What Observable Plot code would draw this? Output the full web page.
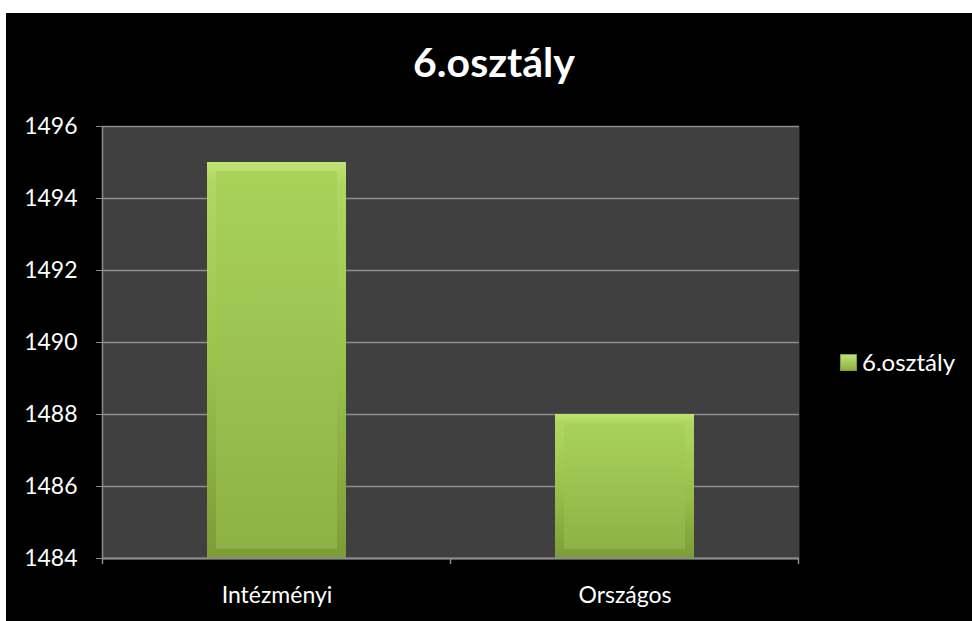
<!DOCTYPE html>
<html>
<head>
<meta charset="utf-8">
<script src="https://cdn.jsdelivr.net/npm/d3@7"></script>
<script src="https://cdn.jsdelivr.net/npm/@observablehq/plot@0.6"></script>
<style>
  html, body { margin: 0; padding: 0; background: #ffffff; }
  #wrap { position: absolute; left: 6px; top: 13px; width: 966px; height: 608px; background: #000; overflow: hidden; font-family: Lato, "Open Sans", sans-serif; }
  #title { position: absolute; left: 0; top: 28px; width: 976px; text-align: center; color: #fff; font-weight: 700; font-size: 41px; line-height: 1; }
  #legend { position: absolute; left: 834px; top: 337px; color: #fff; font-size: 24px; line-height: 24px; display: flex; align-items: center; }
  #legend .sw { width: 17px; height: 17px; margin-right: 5px; background: linear-gradient(#c2e67a, #8aac3f); box-shadow: inset 0 0 0 1px #7d9e38; }
  #chart svg g[aria-label^="y-axis"] line, #chart svg g[aria-label^="y-axis"] path { stroke: #8c8c8c; }
  #defs { position: absolute; width: 0; height: 0; }
</style>
</head>
<body>
<svg id="defs" width="0" height="0">
  <defs>
    <linearGradient id="barOuter" x1="0" y1="0" x2="0" y2="1">
      <stop offset="0" stop-color="#c0e475"/>
      <stop offset="0.05" stop-color="#afd762"/>
      <stop offset="0.5" stop-color="#9bc24d"/>
      <stop offset="1" stop-color="#7c9c36"/>
    </linearGradient>
    <linearGradient id="barInner" x1="0" y1="0" x2="0" y2="1">
      <stop offset="0" stop-color="#a8d25a"/>
      <stop offset="1" stop-color="#8eb245"/>
    </linearGradient>
  </defs>
</svg>
<div id="wrap">
  <div id="title"></div>
  <div id="chart"></div>
  <div id="legend"><span class="sw"></span><span id="legendText"></span></div>
</div>
<script>
const chartTitle = "6.osztály";
const seriesName = "6.osztály";
const categories = ["Intézményi", "Országos"];
const values = [1495, 1488];
const yTicks = [1484, 1486, 1488, 1490, 1492, 1494, 1496];
const yMin = 1484, yMax = 1496;

const data = categories.map((c, i) => ({category: c, value: values[i]}));

document.getElementById("title").textContent = chartTitle;
document.getElementById("legendText").textContent = seriesName;

const plot = Plot.plot({
  width: 966,
  height: 608,
  marginLeft: 96,
  marginRight: 173,
  marginTop: 113,
  marginBottom: 63,
  style: {background: "transparent", color: "#ffffff", fontFamily: "Lato, 'Open Sans', sans-serif", fontSize: "23px"},
  x: {domain: categories, paddingInner: 0.6, paddingOuter: 0.3, label: null, tickSize: 0, tickPadding: 28},
  y: {domain: [yMin, yMax], ticks: yTicks, tickFormat: d => String(d), label: null, tickSize: 6, tickPadding: 19},
  marks: [
    Plot.frame({fill: "#404040", stroke: "none"}),
    Plot.ruleY(yTicks, {stroke: "#8c8c8c", strokeWidth: 1.5}),
    Plot.barY(data, {x: "category", y1: () => yMin, y2: "value", fill: "url(#barOuter)"}),
    Plot.barY(data, {x: "category", y1: () => yMin, y2: "value", fill: "url(#barInner)", inset: 9}),
    Plot.ruleY([yMin], {stroke: "#8c8c8c", strokeWidth: 2})
  ]
});
document.getElementById("chart").appendChild(plot);

// left axis line and category boundary ticks
const xs = plot.scale("x"), ys = plot.scale("y");
const svg = d3.select(plot);
const gap = (xs.step - xs.bandwidth) / 2;
const bounds = categories.map(c => xs.apply(c) - gap).concat([xs.apply(categories[categories.length - 1]) + xs.bandwidth + gap]);
const yb = ys.apply(yMin), yt = ys.apply(yMax);
const g = svg.append("g").attr("stroke", "#8c8c8c").attr("stroke-width", 1.5);
g.append("line").attr("x1", bounds[0]).attr("x2", bounds[0]).attr("y1", yt).attr("y2", yb);
g.selectAll("line.bt").data(bounds).join("line").attr("class", "bt")
  .attr("x1", d => d).attr("x2", d => d).attr("y1", yb).attr("y2", yb + 6);
</script>
</body>
</html>
